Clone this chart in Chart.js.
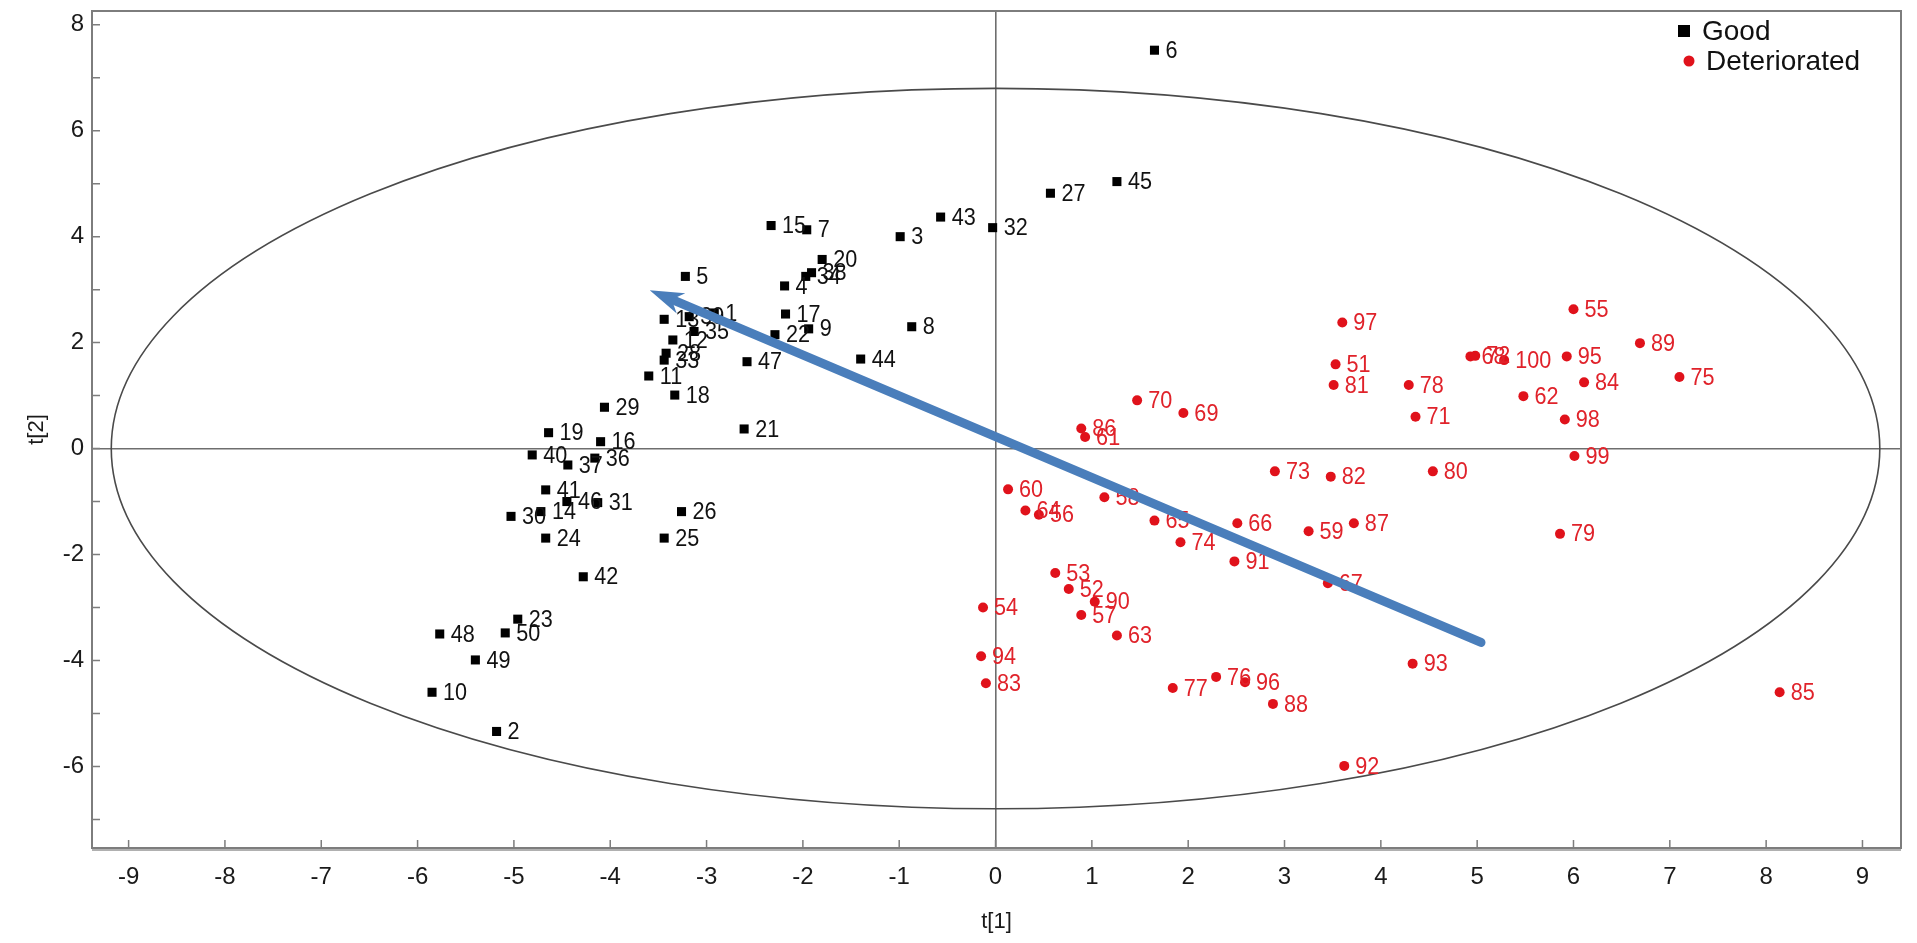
<!DOCTYPE html>
<html>
<head>
<meta charset="utf-8">
<script src="https://cdn.jsdelivr.net/npm/chart.js@4.4.1/dist/chart.umd.min.js"></script>
<style>
  html, body { margin: 0; padding: 0; background: #fff; }
  canvas { display: block; }
</style>
</head>
<body>
<canvas id="score-chart" width="1917" height="943"></canvas>
<script>
// Score plot t[1] / t[2]

// Good samples (1-50)
const goodIds = [1, 2, 3, 4, 5, 6, 7, 8, 9, 10,
    11, 12, 13, 14, 15, 16, 17, 18, 19, 20,
    21, 22, 23, 24, 25, 26, 27, 28, 29, 30,
    31, 32, 33, 34, 35, 36, 37, 38, 39, 40,
    41, 42, 43, 44, 45, 46, 47, 48, 49, 50];
const goodT1 = [-2.92, -5.18, -0.99, -2.19, -3.22, 1.65, -1.96, -0.87, -1.94, -5.85,
    -3.60, -3.35, -3.44, -4.72, -2.33, -4.10, -2.18, -3.33, -4.64, -1.80,
    -2.61, -2.29, -4.96, -4.67, -3.44, -3.26, 0.57, -3.42, -4.06, -5.03,
    -4.13, -0.03, -3.44, -1.97, -3.13, -4.16, -4.44, -1.91, -3.18, -4.81,
    -4.67, -4.28, -0.57, -1.40, 1.26, -4.45, -2.58, -5.77, -5.40, -5.09];
const goodT2 = [2.56, -5.34, 4.00, 3.07, 3.25, 7.52, 4.13, 2.30, 2.26, -4.60,
    1.37, 2.05, 2.44, -1.19, 4.21, 0.13, 2.54, 1.01, 0.30, 3.57,
    0.37, 2.15, -3.22, -1.69, -1.69, -1.19, 4.82, 1.80, 0.78, -1.28,
    -1.02, 4.17, 1.67, 3.25, 2.21, -0.18, -0.31, 3.32, 2.49, -0.12,
    -0.78, -2.42, 4.37, 1.69, 5.04, -1.00, 1.64, -3.50, -3.99, -3.48];

// Deteriorated samples (51-100)
const badIds = [51, 52, 53, 54, 55, 56, 57, 58, 59, 60,
    61, 62, 63, 64, 65, 66, 67, 68, 69, 70,
    71, 72, 73, 74, 75, 76, 77, 78, 79, 80,
    81, 82, 83, 84, 85, 86, 87, 88, 89, 90,
    91, 92, 93, 94, 95, 96, 97, 98, 99, 100];
const badT1 = [3.53, 0.76, 0.62, -0.13, 6.00, 0.45, 0.89, 1.13, 3.25, 0.13,
    0.93, 5.48, 1.26, 0.31, 1.65, 2.51, 3.45, 4.93, 1.95, 1.47,
    4.36, 4.98, 2.90, 1.92, 7.10, 2.29, 1.84, 4.29, 5.86, 4.54,
    3.51, 3.48, -0.10, 6.11, 8.14, 0.89, 3.72, 2.88, 6.69, 1.03,
    2.48, 3.62, 4.33, -0.15, 5.93, 2.59, 3.60, 5.91, 6.01, 5.28];
const badT2 = [1.59, -2.65, -2.35, -3.00, 2.63, -1.25, -3.14, -0.92, -1.56, -0.77,
    0.22, 0.99, -3.53, -1.17, -1.36, -1.41, -2.54, 1.74, 0.67, 0.91,
    0.60, 1.75, -0.43, -1.77, 1.35, -4.31, -4.52, 1.20, -1.61, -0.43,
    1.20, -0.53, -4.43, 1.25, -4.60, 0.38, -1.41, -4.82, 1.99, -2.89,
    -2.13, -5.99, -4.06, -3.92, 1.74, -4.41, 2.38, 0.55, -0.14, 1.67];

// Axis ticks
const xTickValues = [-9, -8, -7, -6, -5, -4, -3, -2, -1, 0, 1, 2, 3, 4, 5, 6, 7, 8, 9];
const yTickValues = [-7, -6, -5, -4, -3, -2, -1, 0, 1, 2, 3, 4, 5, 6, 7, 8];
const yLabelValues = [-6, -4, -2, 0, 2, 4, 6, 8];

// Hotelling ellipse semi-axes (t[1], t[2]) and loading arrow
const ellipseAxes = [9.18, 6.8];
const arrowFrom = [5.04, -3.66];
const arrowTo = [-3.59, 2.99];

const FONT = "'Liberation Sans', Arial, sans-serif";

function toPoints(xs, ys) {
    return xs.map((x, i) => ({ x: x, y: ys[i] }));
}

// Ellipse behind the points
const ellipsePlugin = {
    id: 'ellipse',
    beforeDatasetsDraw(chart) {
        const { ctx, chartArea, scales } = chart;
        const cx = scales.x.getPixelForValue(0);
        const cy = scales.y.getPixelForValue(0);
        const rx = Math.abs(scales.x.getPixelForValue(ellipseAxes[0]) - cx);
        const ry = Math.abs(scales.y.getPixelForValue(ellipseAxes[1]) - cy);
        ctx.save();
        ctx.beginPath();
        ctx.rect(chartArea.left, chartArea.top, chartArea.width, chartArea.height);
        ctx.clip();
        ctx.beginPath();
        ctx.ellipse(cx, cy, rx, ry, 0, 0, Math.PI * 2);
        ctx.strokeStyle = '#4a4a4a';
        ctx.lineWidth = 1.6;
        ctx.stroke();
        ctx.restore();
    }
};

// Sample numbers, arrow, frame, inward ticks, legend
const overlayPlugin = {
    id: 'overlay',
    afterDatasetsDraw(chart) {
        const { ctx, scales } = chart;

        // point labels
        ctx.save();
        ctx.font = '24px ' + FONT;
        ctx.textBaseline = 'middle';
        ctx.textAlign = 'left';
        chart.data.datasets.forEach((ds, di) => {
            const meta = chart.getDatasetMeta(di);
            ctx.fillStyle = ds.labelColor;
            meta.data.forEach((pt, i) => {
                ctx.save();
                ctx.translate(pt.x + 11, pt.y + 1);
                ctx.scale(0.9, 1);
                ctx.fillText(String(ds.ids[i]), 0, 0);
                ctx.restore();
            });
        });
        ctx.restore();

        // arrow
        const sx = scales.x.getPixelForValue(arrowFrom[0]);
        const sy = scales.y.getPixelForValue(arrowFrom[1]);
        const tx = scales.x.getPixelForValue(arrowTo[0]);
        const ty = scales.y.getPixelForValue(arrowTo[1]);
        const ang = Math.atan2(ty - sy, tx - sx);
        const ux = Math.cos(ang), uy = Math.sin(ang);
        const px = -uy, py = ux;
        const headLen = 34, headW = 11;
        ctx.save();
        ctx.strokeStyle = '#4a7ebb';
        ctx.fillStyle = '#4a7ebb';
        ctx.lineWidth = 9;
        ctx.lineCap = 'round';
        ctx.beginPath();
        ctx.moveTo(sx, sy);
        ctx.lineTo(tx - ux * headLen * 0.55, ty - uy * headLen * 0.55);
        ctx.stroke();
        ctx.beginPath();
        ctx.moveTo(tx, ty);
        ctx.lineTo(tx - ux * headLen + px * headW, ty - uy * headLen + py * headW);
        ctx.lineTo(tx - ux * headLen * 0.7, ty - uy * headLen * 0.7);
        ctx.lineTo(tx - ux * headLen - px * headW, ty - uy * headLen - py * headW);
        ctx.closePath();
        ctx.fill();
        ctx.restore();
    },
    afterDraw(chart) {
        const { ctx, chartArea, scales } = chart;
        const { left, right, top, bottom } = chartArea;

        // frame
        ctx.save();
        ctx.strokeStyle = '#7d7d7d';
        ctx.lineWidth = 2;
        ctx.strokeRect(left, top, right - left, bottom - top);
        ctx.beginPath();
        ctx.moveTo(left, bottom + 2);
        ctx.lineTo(right, bottom + 2);
        ctx.strokeStyle = '#b0b0b0';
        ctx.lineWidth = 2;
        ctx.stroke();

        // inward tick marks
        ctx.strokeStyle = '#7d7d7d';
        ctx.lineWidth = 1.5;
        ctx.beginPath();
        xTickValues.forEach(v => {
            const x = scales.x.getPixelForValue(v);
            ctx.moveTo(x, bottom);
            ctx.lineTo(x, bottom - 8);
        });
        yTickValues.forEach(v => {
            const y = scales.y.getPixelForValue(v);
            ctx.moveTo(left, y);
            ctx.lineTo(left + 8, y);
        });
        ctx.stroke();
        ctx.restore();

        // legend
        const rows = [
            { ds: chart.data.datasets[0], mx: 1684, y: 31, tx: 1702 },
            { ds: chart.data.datasets[1], mx: 1689, y: 61, tx: 1706 }
        ];
        ctx.save();
        ctx.font = '28px ' + FONT;
        ctx.textBaseline = 'middle';
        rows.forEach(r => {
            ctx.fillStyle = r.ds.backgroundColor;
            if (r.ds.pointStyle === 'rect') {
                ctx.fillRect(r.mx - 6, r.y - 6, 12, 12);
            } else {
                ctx.beginPath();
                ctx.arc(r.mx, r.y, 5.5, 0, Math.PI * 2);
                ctx.fill();
            }
            ctx.fillStyle = '#111';
            ctx.fillText(r.ds.label, r.tx, r.y + 1);
        });
        ctx.restore();
    }
};

const zeroGrid = {
    color: c => (c.tick && c.tick.value === 0) ? '#6e6e6e' : 'rgba(0,0,0,0)',
    lineWidth: 1.6,
    drawTicks: false
};

const ctx = document.getElementById('score-chart').getContext('2d');

new Chart(ctx, {
    type: 'scatter',
    data: {
        datasets: [
            {
                label: 'Good',
                data: toPoints(goodT1, goodT2),
                ids: goodIds,
                pointStyle: 'rect',
                pointRadius: 6.4,
                backgroundColor: '#000000',
                borderColor: '#000000',
                borderWidth: 0,
                labelColor: '#111111'
            },
            {
                label: 'Deteriorated',
                data: toPoints(badT1, badT2),
                ids: badIds,
                pointStyle: 'circle',
                pointRadius: 5,
                backgroundColor: '#e0121b',
                borderColor: '#e0121b',
                borderWidth: 0,
                labelColor: '#e0222a'
            }
        ]
    },
    options: {
        responsive: false,
        animation: false,
        layout: { padding: { left: 0, right: 16, top: 11, bottom: 0 } },
        plugins: {
            legend: { display: false },
            tooltip: { enabled: false }
        },
        scales: {
            x: {
                type: 'linear',
                min: -9.38,
                max: 9.4,
                afterFit: s => { s.height = 95; s.paddingLeft = 0; s.paddingRight = 0; },
                afterBuildTicks: s => { s.ticks = xTickValues.map(v => ({ value: v })); },
                grid: zeroGrid,
                border: { display: false },
                ticks: {
                    color: '#1a1a1a',
                    font: { family: FONT, size: 24 },
                    padding: 15,
                    maxRotation: 0,
                    autoSkip: false,
                    callback: v => String(v)
                },
                title: {
                    display: true,
                    text: 't[1]',
                    color: '#1a1a1a',
                    font: { family: FONT, size: 22 },
                    padding: { top: 0, bottom: 8 }
                }
            },
            y: {
                type: 'linear',
                min: -7.54,
                max: 8.26,
                afterFit: s => { s.width = 92; s.paddingTop = 0; s.paddingBottom = 0; },
                afterBuildTicks: s => { s.ticks = yTickValues.map(v => ({ value: v })); },
                grid: zeroGrid,
                border: { display: false },
                ticks: {
                    color: '#1a1a1a',
                    font: { family: FONT, size: 24 },
                    padding: 8,
                    autoSkip: false,
                    callback: v => yLabelValues.includes(v) ? String(v) : ''
                },
                title: {
                    display: true,
                    text: 't[2]',
                    color: '#1a1a1a',
                    font: { family: FONT, size: 22 },
                    padding: { top: 24, bottom: 0 }
                }
            }
        }
    },
    plugins: [ellipsePlugin, overlayPlugin]
});
</script>
</body>
</html>
